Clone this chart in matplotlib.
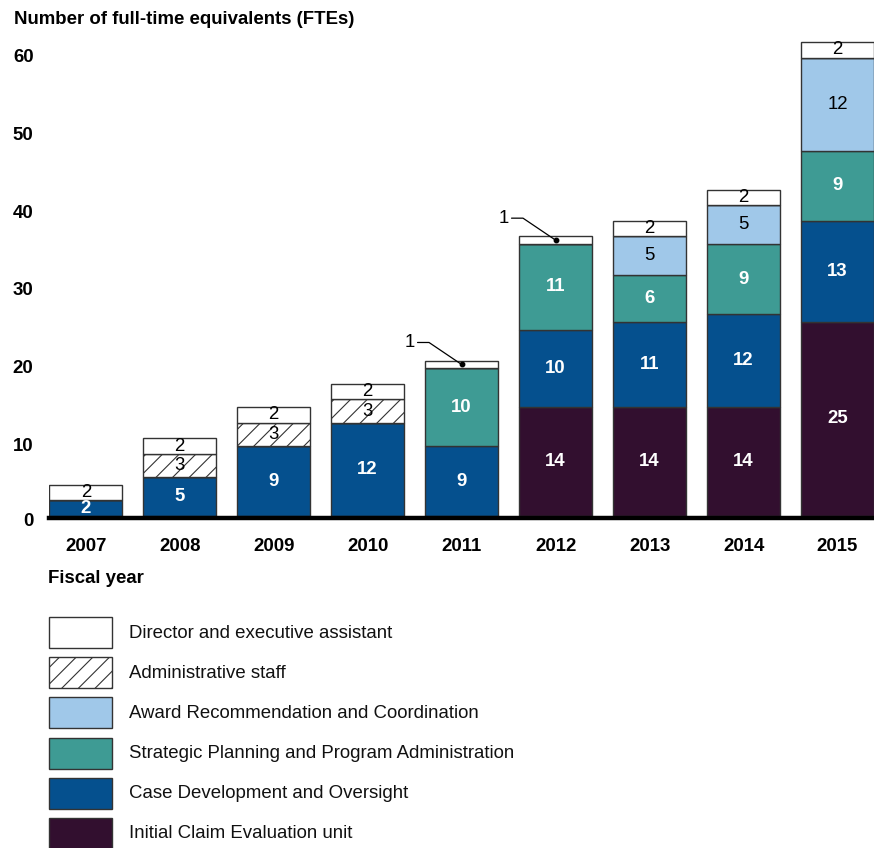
import matplotlib
matplotlib.use("Agg")
import matplotlib.pyplot as plt
from matplotlib.patches import Rectangle
from matplotlib.transforms import blended_transform_factory, ScaledTranslation
import numpy as np

plt.rcParams['font.family'] = ['Liberation Sans', 'DejaVu Sans']
plt.rcParams['hatch.linewidth'] = 0.8

# ---- data ----
years = ["2007", "2008", "2009", "2010", "2011", "2012", "2013", "2014", "2015"]
initial_claim = [0, 0, 0, 0, 0, 14, 14, 14, 25]
case_dev = [2, 5, 9, 12, 9, 10, 11, 12, 13]
strategic = [0, 0, 0, 0, 10, 11, 6, 9, 9]
award = [0, 0, 0, 0, 0, 0, 5, 5, 12]
admin = [0, 3, 3, 3, 0, 0, 0, 0, 0]
director = [2, 2, 2, 2, 1, 1, 2, 2, 2]
yticks = [0, 10, 20, 30, 40, 50, 60]

series_names = ["Initial Claim Evaluation unit", "Case Development and Oversight",
                "Strategic Planning and Program Administration",
                "Award Recommendation and Coordination", "Administrative staff",
                "Director and executive assistant"]
series_vals = [initial_claim, case_dev, strategic, award, admin, director]
colors = ["#320F2F", "#05508E", "#3E9B94", "#A0C8E9", "white", "white"]
hatches = [None, None, None, None, "//", None]
text_colors = ["white", "white", "white", "black", "black", "black"]
text_weights = ["bold", "bold", "bold", "normal", "normal", "normal"]

FS = 13.4
W, H = 874, 848
fig = plt.figure(figsize=(W / 100, H / 100), dpi=100)
ppu = 7.77
ymax = 62
ax = fig.add_axes([49.3 / W, (H - 516) / H, 824.7 / W, ymax * ppu / H])
bw = 0.776
ax.set_xlim(-bw / 2, len(years) - 1 + bw / 2)
ax.set_ylim(0, ymax)

x = np.arange(len(years))
bottom = np.zeros(len(years))
edge = "#333333"
for vals, c, h, tc, tw in zip(series_vals, colors, hatches, text_colors, text_weights):
    vals = np.array(vals, dtype=float)
    ax.bar(x, vals, bw, bottom=bottom, color=c, edgecolor=edge, linewidth=1.0,
           hatch=h, zorder=2)
    for i, v in enumerate(vals):
        if v >= 2:
            ax.text(x[i], bottom[i] + v / 2, f"{int(v)}", ha="center", va="center",
                    color=tc, fontsize=FS, fontweight=tw, zorder=3)
        elif v == 1:
            yy = bottom[i] + v / 2
            ax.plot(x[i], yy, "o", color="black", ms=3.2, zorder=4)
            ax.annotate("1", xy=(x[i], yy), xytext=(-52, 22),
                        textcoords="offset pixels", ha="center", va="center",
                        fontsize=FS, color="black", zorder=4,
                        arrowprops=dict(arrowstyle="-", color="black", lw=0.9,
                                        shrinkA=0, shrinkB=0,
                                        connectionstyle="angle,angleA=0,angleB=146,rad=0"))
    bottom += vals

for s in ["top", "right", "left"]:
    ax.spines[s].set_visible(False)
ax.spines["bottom"].set_linewidth(3.2)
ax.spines["bottom"].set_color("black")
ax.spines["bottom"].set_position(("outward", 1.6))
ax.spines["bottom"].set_zorder(5)

ax.set_xticks(x)
ax.set_xticklabels(years, fontsize=FS, fontweight="bold")
ax.tick_params(axis="x", length=0, pad=14.5)
ax.set_yticks([])

# y tick labels
tr = blended_transform_factory(fig.transFigure, ax.transData)
for v in yticks:
    off = -5.5 if v == 0 else -8
    ax.text(33.5 / W, v, str(v), transform=tr + ScaledTranslation(0, off / 100, fig.dpi_scale_trans),
            ha="right", va="center", fontsize=FS, fontweight="bold")

fig.text(14 / W, 1 - 19 / H, "Number of full-time equivalents (FTEs)", ha="left",
         va="center", fontsize=FS, fontweight="bold")
fig.text(48 / W, 1 - 578.3 / H, "Fiscal year", ha="left", va="center",
         fontsize=FS, fontweight="bold")

# legend (top to bottom)
leg_order = list(range(len(series_names)))[::-1]
for k, idx in enumerate(leg_order):
    top = 617 + k * 40.2
    rect = Rectangle((49.3 / W, 1 - (top + 31) / H), 62.4 / W, 31 / H,
                     transform=fig.transFigure, facecolor=colors[idx],
                     edgecolor=edge, linewidth=1.0, hatch=hatches[idx], clip_on=False)
    fig.add_artist(rect)
    fig.text(129.3 / W, 1 - (top + 16) / H, series_names[idx], ha="left", va="center",
             fontsize=FS, color="#111111")

fig.savefig("out.png", dpi=100)
